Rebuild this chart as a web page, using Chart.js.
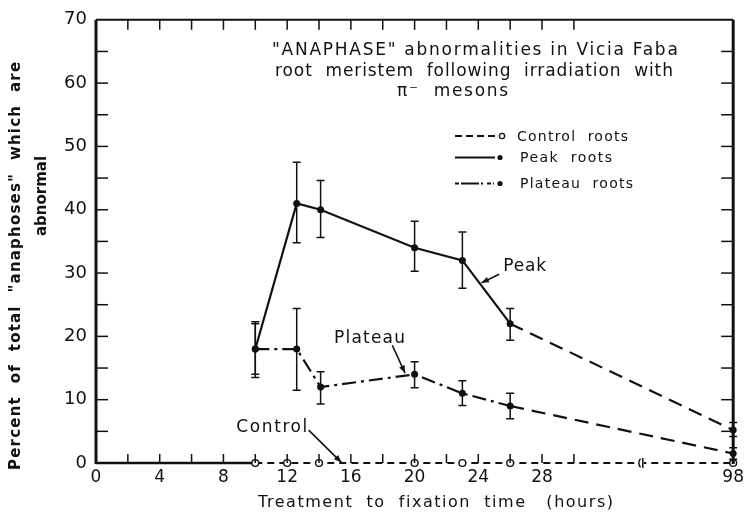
<!DOCTYPE html>
<html><head><meta charset="utf-8">
<script src="https://cdn.jsdelivr.net/npm/chart.js@4.4.1/dist/chart.umd.min.js"></script>
<style>html,body{margin:0;padding:0;background:#fff}#wrap{width:748px;height:523px}</style>
</head><body><div id="wrap"><canvas id="c" width="748" height="523"></canvas></div>
<script>
// ---- data ----
const controlHours = [10, 12, 14, 20, 23, 26, 98];
const controlPct   = [0, 0, 0, 0, 0, 0, 0];

const peakHours = [10, 12.6, 14.1, 20, 23, 26, 98];
const peakPct   = [18, 41, 40, 34, 32, 22, 5.2];
const peakHigh  = [22.3, 47.5, 44.6, 38.2, 36.5, 24.4, 6.4];
const peakLow   = [13.5, 34.8, 35.6, 30.3, 27.6, 19.4, 4.2];

const plateauHours = [10, 12.6, 14.1, 20, 23, 26, 98];
const plateauPct   = [18, 18, 12, 14, 11, 9, 1.5];
const plateauHigh  = [22.0, 24.4, 14.4, 16.0, 13.0, 11.0, 2.4];
const plateauLow   = [14.0, 11.5, 9.3, 11.9, 9.1, 7.0, 0.6];

const xTickHours = [0, 4, 8, 12, 16, 20, 24, 28, 98];
const xMinorHours = [2, 6, 10, 14, 18, 22, 26, 30];
const yTickValues = [0, 10, 20, 30, 40, 50, 60, 70];
const yMinorValues = [5, 15, 25, 35, 45, 55, 65];

// broken time axis: everything up to 30 h is linear, 98 h sits at the end of the axis
const AXIS_END = 40, BREAK_AT = 34.2;
const axisPos = h => (h > 30 ? AXIS_END : h);

const pts = (hs, vs) => hs.map((h, i) => ({ x: axisPos(h), y: vs[i] }));
const FONT = "'DejaVu Sans', sans-serif";

function fitText(ctx, str, left, baseline, width) {
  ctx.save();
  ctx.letterSpacing = '0px';
  const w0 = ctx.measureText(str).width;
  const n = [...str].length;
  const ls = n > 1 ? Math.max(0, (width - w0) / (n - 1)) : 0;
  ctx.letterSpacing = ls.toFixed(2) + 'px';
  ctx.textAlign = 'left';
  ctx.textBaseline = 'alphabetic';
  ctx.fillText(str, left, baseline);
  ctx.restore();
}
function arrow(ctx, x1, y1, x2, y2) {
  ctx.save();
  ctx.lineWidth = 1.6;
  ctx.beginPath(); ctx.moveTo(x1, y1); ctx.lineTo(x2, y2); ctx.stroke();
  const a = Math.atan2(y2 - y1, x2 - x1), L = 8, W = 0.38;
  ctx.beginPath();
  ctx.moveTo(x2, y2);
  ctx.lineTo(x2 - L * Math.cos(a - W), y2 - L * Math.sin(a - W));
  ctx.lineTo(x2 - L * Math.cos(a + W), y2 - L * Math.sin(a + W));
  ctx.closePath(); ctx.fill();
  ctx.restore();
}

const errorBars = {
  id: 'errorBars',
  afterDatasetsDraw(chart) {
    const { ctx, scales: { x, y } } = chart;
    ctx.save();
    ctx.strokeStyle = '#111'; ctx.lineWidth = 1.5;
    chart.data.datasets.forEach(ds => {
      if (!ds.errHigh) return;
      ds.data.forEach((p, i) => {
        const px = x.getPixelForValue(p.x);
        const yh = y.getPixelForValue(ds.errHigh[i]);
        const yl = y.getPixelForValue(ds.errLow[i]);
        ctx.beginPath();
        ctx.moveTo(px, yh); ctx.lineTo(px, yl);
        ctx.moveTo(px - 4, yh); ctx.lineTo(px + 4, yh);
        ctx.moveTo(px - 4, yl); ctx.lineTo(px + 4, yl);
        ctx.stroke();
      });
    });
    ctx.restore();
  }
};

const frame = {
  id: 'frame',
  beforeDatasetsDraw(chart) {
    const { ctx, chartArea: a, scales: { x } } = chart;
    ctx.save();
    ctx.strokeStyle = '#111'; ctx.lineCap = 'butt';
    ctx.lineWidth = 2.5;
    ctx.beginPath(); ctx.moveTo(a.left, a.bottom); ctx.lineTo(x.getPixelForValue(10), a.bottom); ctx.stroke();
    ctx.restore();
  },
  afterDraw(chart) {
    const { ctx, chartArea: a, scales: { x, y } } = chart;
    ctx.save();
    ctx.strokeStyle = '#111'; ctx.fillStyle = '#111';
    ctx.lineCap = 'butt';
    // box
    ctx.lineWidth = 3;
    ctx.beginPath(); ctx.moveTo(a.left, a.bottom + 1); ctx.lineTo(a.left, a.top); ctx.stroke();
    ctx.beginPath(); ctx.moveTo(a.right, a.top); ctx.lineTo(a.right, a.bottom + 1); ctx.stroke();
    ctx.lineWidth = 2;
    ctx.beginPath(); ctx.moveTo(a.left, a.top); ctx.lineTo(a.right, a.top); ctx.stroke();
    // inward ticks
    ctx.lineWidth = 1.5;
    [...xTickHours.filter(h => h > 0 && h <= 30), ...xMinorHours].forEach(h => {
      const px = x.getPixelForValue(axisPos(h));
      ctx.beginPath(); ctx.moveTo(px, a.top); ctx.lineTo(px, a.top + 10); ctx.stroke();
      ctx.beginPath(); ctx.moveTo(px, a.bottom); ctx.lineTo(px, a.bottom - 9); ctx.stroke();
    });
    [...yTickValues.filter(v => v > 0 && v < 70), ...yMinorValues].forEach(v => {
      const py = y.getPixelForValue(v);
      ctx.beginPath(); ctx.moveTo(a.left, py); ctx.lineTo(a.left + 12, py); ctx.stroke();
      ctx.beginPath(); ctx.moveTo(a.right, py); ctx.lineTo(a.right - 12, py); ctx.stroke();
    });
    // axis break marker
    const bx = x.getPixelForValue(BREAK_AT), by = y.getPixelForValue(0);
    ctx.fillStyle = '#fff'; ctx.fillRect(bx - 3, by - 3, 6, 6); ctx.fillStyle = '#111';
    ctx.lineWidth = 1.5;
    ctx.beginPath(); ctx.arc(bx + 4, by, 6, Math.PI * 0.75, Math.PI * 1.25); ctx.stroke();
    ctx.beginPath(); ctx.moveTo(bx + 2, by - 5); ctx.lineTo(bx + 2, by + 5); ctx.stroke();

    // chart title inside the plot
    ctx.font = `17px ${FONT}`;
    fitText(ctx, '"ANAPHASE" abnormalities in Vicia Faba', 272, 55, 406);
    fitText(ctx, 'root  meristem  following  irradiation  with', 275, 75.5, 398);
    fitText(ctx, 'π⁻  mesons', 397, 96, 111);

    // legend
    ctx.font = `14px ${FONT}`;
    fitText(ctx, 'Control  roots', 517, 140.5, 111);
    fitText(ctx, 'Peak  roots', 520, 161.5, 92);
    fitText(ctx, 'Plateau  roots', 520, 188, 113);
    ctx.lineWidth = 1.8;
    ctx.setLineDash([7, 4]);
    ctx.beginPath(); ctx.moveTo(455, 136); ctx.lineTo(498, 136); ctx.stroke();
    ctx.setLineDash([]);
    ctx.beginPath(); ctx.moveTo(455, 157.5); ctx.lineTo(495, 157.5); ctx.stroke();
    ctx.setLineDash([4, 2, 18, 2, 2, 4]);
    ctx.beginPath(); ctx.moveTo(455, 183.5); ctx.lineTo(494, 183.5); ctx.stroke();
    ctx.setLineDash([]);
    ctx.lineWidth = 1.3;
    ctx.beginPath(); ctx.arc(502, 136, 2.6, 0, Math.PI * 2); ctx.fillStyle = '#fff'; ctx.fill(); ctx.stroke();
    ctx.fillStyle = '#111';
    ctx.beginPath(); ctx.arc(500, 157.5, 2.6, 0, Math.PI * 2); ctx.fill();
    ctx.beginPath(); ctx.arc(500, 183.5, 2.6, 0, Math.PI * 2); ctx.fill();

    // series labels with arrows (anchored in data space)
    const P = (h, v) => [x.getPixelForValue(h), y.getPixelForValue(v)];
    ctx.font = `17px ${FONT}`;
    let p = P(25.56, 30.27); fitText(ctx, 'Peak', p[0], p[1], 43);
    arrow(ctx, ...P(25.31, 29.8), ...P(24.2, 28.45));
    p = P(14.94, 19.0); fitText(ctx, 'Plateau', p[0], p[1], 71);
    arrow(ctx, ...P(18.6, 18.6), ...P(19.4, 14.2));
    p = P(8.81, 4.9); fitText(ctx, 'Control', p[0], p[1], 71);
    arrow(ctx, ...P(13.35, 5.2), ...P(15.4, 0.1));

    // axis titles
    ctx.font = `16px ${FONT}`;
    fitText(ctx, 'Treatment  to  fixation  time   (hours)', 258, 507, 355);
    ctx.font = `bold 15px ${FONT}`;
    ctx.save(); ctx.translate(20, 470); ctx.rotate(-Math.PI / 2);
    fitText(ctx, 'Percent  of  total  "anaphoses"  which  are', 0, 0, 408);
    ctx.restore();
    ctx.save(); ctx.translate(46, 236); ctx.rotate(-Math.PI / 2);
    fitText(ctx, 'abnormal', 0, 0, 76);
    ctx.restore();
    ctx.restore();
  }
};

const lastSeg = (ds) => (c) => (c.p1DataIndex === ds.length - 1 ? [14, 8] : undefined);

new Chart(document.getElementById('c'), {
  type: 'line',
  data: {
    datasets: [
      {
        label: 'Peak roots', data: pts(peakHours, peakPct),
        errHigh: peakHigh, errLow: peakLow, clip: false,
        borderColor: '#111', backgroundColor: '#111', borderWidth: 2.2,
        pointRadius: 3.5, pointBackgroundColor: '#111', pointBorderWidth: 0,
        segment: { borderDash: lastSeg(peakHours) }
      },
      {
        label: 'Plateau roots', data: pts(plateauHours, plateauPct),
        errHigh: plateauHigh, errLow: plateauLow, clip: false,
        borderColor: '#111', backgroundColor: '#111', borderWidth: 2.2,
        borderDash: [14, 5, 3, 5],
        pointRadius: 3.5, pointBackgroundColor: '#111', pointBorderWidth: 0,
        segment: { borderDash: lastSeg(plateauHours) }
      },
      {
        label: 'Control roots', data: pts(controlHours, controlPct), clip: false,
        borderColor: '#111', borderWidth: 2, borderDash: [7, 5],
        pointRadius: 3.4, pointBackgroundColor: '#fff', pointBorderColor: '#111', pointBorderWidth: 1.4
      }
    ]
  },
  options: {
    responsive: false, animation: false, devicePixelRatio: 1,
    layout: { padding: { top: 15, right: 11, left: 0, bottom: 0 } },
    plugins: { legend: { display: false }, tooltip: { enabled: false }, title: { display: false } },
    scales: {
      x: {
        type: 'linear', min: 0, max: AXIS_END,
        afterBuildTicks: s => { s.ticks = xTickHours.map(h => ({ value: axisPos(h) })); },
        afterFit: s => { s.height = 60; },
        ticks: {
          autoSkip: false, maxRotation: 0, padding: 4, color: '#111',
          font: { family: FONT, size: 17 },
          callback: v => String(xTickHours.find(h => axisPos(h) === v))
        },
        grid: { display: false, drawTicks: false, tickLength: 0 }, border: { display: false }
      },
      y: {
        type: 'linear', min: 0, max: 70,
        afterBuildTicks: s => { s.ticks = yTickValues.map(v => ({ value: v })); },
        afterFit: s => { s.width = 96; },
        ticks: { padding: 9, color: '#111', font: { family: FONT, size: 18 } },
        grid: { display: false, drawTicks: false, tickLength: 0 }, border: { display: false }
      }
    }
  },
  plugins: [errorBars, frame]
});
</script></body></html>
